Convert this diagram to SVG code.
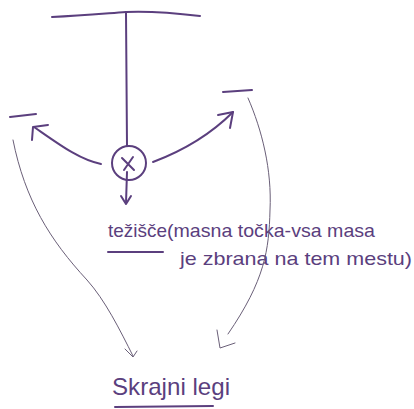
<svg xmlns="http://www.w3.org/2000/svg" width="414" height="409" viewBox="0 0 414 409">
<style>
.ink{fill:none;stroke:#5b3f7e;stroke-width:2;stroke-linecap:round;stroke-linejoin:round}
.thin{fill:none;stroke:#6a5f78;stroke-width:1;stroke-linecap:round;stroke-linejoin:round}
.t{font-family:"Liberation Sans","DejaVu Sans",sans-serif;fill:#5b3f7e}
</style>
<rect width="414" height="409" fill="#ffffff"/>
<g id="pendulum">
<path class="ink" d="M52,17 C80,16 100,14 126,12 C150,11 175,13 200,16"/>
<path class="ink" d="M126,13 L127,146"/>
<circle class="ink" cx="129" cy="163" r="17"/>
<path class="ink" d="M122,158 L134,170 M133,157 L124,170"/>
</g>
<g id="dash-left"><path class="ink" d="M10,117 L36,114"/></g>
<g id="dash-right"><path class="ink" d="M223,92 L252,90"/></g>
<g id="tezisce">
<text class="t" x="108" y="237" font-size="19" textLength="59" lengthAdjust="spacingAndGlyphs">težišče</text>
<path class="ink" d="M108,252 L163,252"/>
<text class="t" x="167" y="237" font-size="19" textLength="208" lengthAdjust="spacingAndGlyphs">(masna točka-vsa masa</text>
<text class="t" x="180" y="265" font-size="19" textLength="232" lengthAdjust="spacingAndGlyphs">je zbrana na tem mestu)</text>
</g>
<g id="skrajni-legi">
<text class="t" x="112" y="395" font-size="24" textLength="118" lengthAdjust="spacingAndGlyphs">Skrajni legi</text>
<path class="ink" d="M115,407 L213,406"/>
</g>
<g id="connectors">
<path class="ink" d="M101,164 C80,160 60,145 34,127"/>
<path class="ink" d="M48,125 L33,127 L32,140"/>
<path class="ink" d="M153,162 C185,150 210,135 233,112"/>
<path class="ink" d="M218,115 L233,112 L230,128"/>
<path class="ink" d="M127,172 L126,203"/>
<path class="ink" d="M121,196 L126,204 L131,196"/>
<path class="thin" d="M13,140 C25,200 50,240 87,280 C105,300 120,330 133,356"/>
<path class="thin" d="M125,349 L133,357 L137,351"/>
<path class="thin" d="M248,98 C262,130 272,170 270,210 C269,250 265,280 228,334"/>
<path class="thin" d="M217,330 L220,348 L235,343"/>
</g>
</svg>
